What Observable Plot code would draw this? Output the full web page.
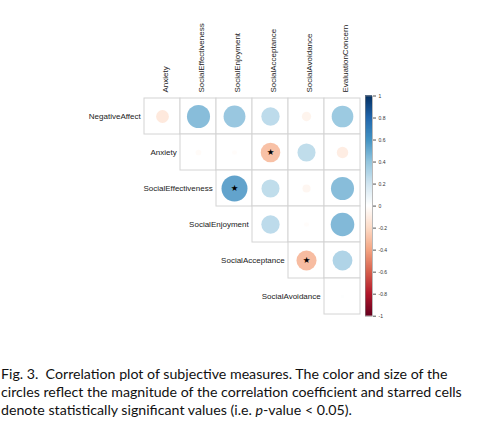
<!DOCTYPE html>
<html>
<head>
<meta charset="utf-8">
<script src="https://cdn.jsdelivr.net/npm/d3@7"></script>
<script src="https://cdn.jsdelivr.net/npm/@observablehq/plot@0.6"></script>
<style>
  html, body { margin: 0; padding: 0; background: white; }
  #wrap { position: relative; width: 494px; height: 444px; }
  #wrap svg { display: block; }
  #bar { position: absolute; left: 0; top: 0; }
  #caption { position: absolute; left: 1px; top: 365px; font-family: Lato, sans-serif; font-size: 14.2px; line-height: 18px; color: #111; white-space: nowrap; }
</style>
</head>
<body>
<div id="wrap">
  <div id="main"></div>
  <div id="bar"></div>
  <div id="caption">Fig. 3.&nbsp; Correlation plot of subjective measures. The color and size of the<br>circles reflect the magnitude of the correlation coefficient and starred cells<br>denote statistically significant values (i.e. <i>p</i>-value &lt; 0.05).</div>
</div>
<script>
// Row variables (left labels) and column variables (top labels)
const rows = ["NegativeAffect", "Anxiety", "SocialEffectiveness", "SocialEnjoyment", "SocialAcceptance", "SocialAvoidance"];
const cols = ["Anxiety", "SocialEffectiveness", "SocialEnjoyment", "SocialAcceptance", "SocialAvoidance", "EvaluationConcern"];

// Correlations (upper triangle; row i starts at column i)
const corrNegativeAffect      = [-0.15, 0.49, 0.44, 0.31, -0.08, 0.43];
const corrAnxiety             = [-0.03, -0.02, -0.35, 0.30, -0.12];
const corrSocialEffectiveness = [0.62, 0.30, -0.06, 0.49];
const corrSocialEnjoyment     = [0.31, -0.02, 0.51];
const corrSocialAcceptance    = [-0.37, 0.36];
const corrSocialAvoidance     = [0.01];

// Significant pairs (p < 0.05)
const significant = [
  ["Anxiety", "SocialAcceptance"],
  ["SocialEffectiveness", "SocialEnjoyment"],
  ["SocialAcceptance", "SocialAvoidance"]
];

// Colour bar ticks
const barTicks = [1, 0.8, 0.6, 0.4, 0.2, 0, -0.2, -0.4, -0.6, -0.8, -1];

// RdBu palette (corrplot COL2)
const colorStops = [-1, -0.8, -0.6, -0.4, -0.2, 0, 0.2, 0.4, 0.6, 0.8, 1];
const rdbu = ["#67001F", "#B2182B", "#D6604D", "#F4A582", "#FDDBC7", "#FFFFFF", "#D1E5F0", "#92C5DE", "#4393C3", "#2166AC", "#053061"];

const rowValues = [corrNegativeAffect, corrAnxiety, corrSocialEffectiveness, corrSocialEnjoyment, corrSocialAcceptance, corrSocialAvoidance];
const cells = rows.flatMap((r, i) => rowValues[i].map((v, k) => {
  const c = cols[i + k];
  return { row: r, col: c, value: v, abs: Math.abs(v), sig: significant.some(([a, b]) => a === r && b === c) };
}));

const colorScale = { type: "linear", domain: colorStops, range: rdbu, interpolate: "rgb" };
const W = 494, H = 340;
const font = "'Liberation Sans', Arial, sans-serif";

const main = Plot.plot({
  width: W, height: H,
  marginLeft: 141.5, marginRight: 132.3, marginTop: 95.5, marginBottom: 24.3,
  x: { domain: cols, padding: 0, axis: null },
  y: { domain: rows, padding: 0, axis: null },
  color: colorScale,
  r: { type: "sqrt", domain: [0, 1], range: [0, 16.5] },
  style: { fontFamily: font, background: "white" },
  marks: [
    Plot.cell(cells, { x: "col", y: "row", fill: "white", stroke: "#d4d4d4", strokeWidth: 1, inset: 0 }),
    Plot.dot(cells, { x: "col", y: "row", r: "abs", fill: "value", fillOpacity: 0.82, stroke: "none" }),
    Plot.text(cells.filter(d => d.sig), { x: "col", y: "row", text: () => "★", fontSize: 8.5, fill: "black", fontFamily: "DejaVu Sans" }),
    Plot.text(cols, { x: d => d, frameAnchor: "top", rotate: -90, textAnchor: "start", dy: -3.5, fontSize: 8, fill: "#222" }),
    Plot.text(rows, { x: (d, i) => cols[i], y: d => d, textAnchor: "end", dx: -21.8, fontSize: 8, fill: "#222" })
  ]
});
document.getElementById("main").appendChild(main);

const barSteps = d3.range(-1, 1, 0.01);
const bar = Plot.plot({
  width: W, height: H,
  marginLeft: 365, marginRight: 122, marginTop: 95.5, marginBottom: 24.3,
  y: { domain: [-1, 1], axis: null },
  color: colorScale,
  style: { fontFamily: font, background: "transparent" },
  marks: [
    Plot.rect(barSteps, { y1: d => d, y2: d => Math.min(1, d + 0.02), fill: d => d + 0.005 }),
    Plot.frame({ stroke: "#8a8a8a", strokeWidth: 0.6 }),
    Plot.axisY({ anchor: "right", ticks: barTicks, tickSize: 3, tickPadding: 3, fontSize: 5, tickFormat: d => String(d), stroke: "#555", color: "#333" })
  ]
});
document.getElementById("bar").appendChild(bar);
</script>
</body>
</html>
